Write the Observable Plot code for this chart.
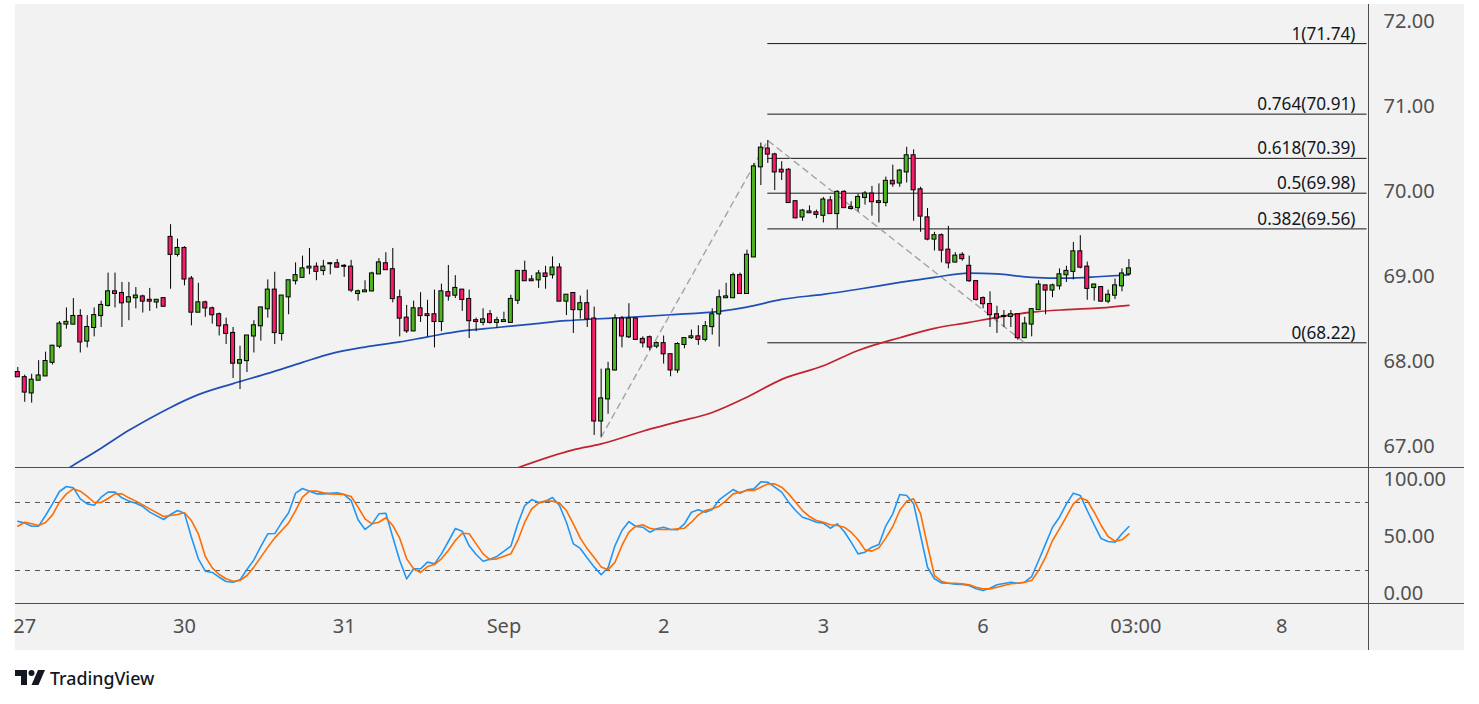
<!DOCTYPE html>
<html><head><meta charset="utf-8">
<script src="https://cdn.jsdelivr.net/npm/d3@7"></script>
<script src="https://cdn.jsdelivr.net/npm/@observablehq/plot@0.6"></script>
<style>
body{margin:0;background:#fff;font-family:"Noto Sans",sans-serif;}
#wrap{position:relative;width:1479px;height:704px;overflow:hidden;background:#fff;}
#panel{position:absolute;left:15px;top:4px;width:1449px;height:646px;background:#f2f2f2;}
.pane{position:absolute;left:15px;width:1449px;}
.sep{position:absolute;background:#4f4f4f;}
#logo{position:absolute;left:0;top:650px;}
</style></head><body>
<div id="wrap">
<div id="panel"></div>
<div id="main" class="pane" style="top:4px"></div>
<div id="stoch" class="pane" style="top:467px"></div>
<div id="time" class="pane" style="top:603px"></div>
<div class="sep" style="left:15px;top:467px;width:1449px;height:1px"></div>
<div class="sep" style="left:15px;top:603px;width:1449px;height:1px"></div>
<div class="sep" style="left:1368px;top:4px;width:1px;height:646px"></div>
<svg id="logo" width="200" height="54">
  <path d="M15 20H27V35H21V26H15Z" fill="#131722"/>
  <circle cx="31.5" cy="23" r="3" fill="#131722"/>
  <path d="M38 20H45L38.5 35H31.5Z" fill="#131722"/>
  <text x="50" y="35" font-family="Noto Sans" font-size="17.8" font-weight="500" fill="#131722">TradingView</text>
</svg>
</div>
<script>
// Hourly candles (index 0..160)
const open = [67.87,67.81,67.63,67.78,67.83,67.99,68.18,68.44,68.44,68.53,
68.24,68.40,68.54,68.66,68.82,68.80,68.70,68.75,68.76,68.72,
68.70,68.74,69.46,69.26,69.33,68.97,68.58,68.69,68.62,68.55,
68.42,68.33,67.98,68.01,68.30,68.42,68.62,68.84,68.33,68.76,
68.95,68.99,69.10,69.11,69.07,69.15,69.15,69.12,69.11,68.80,
68.82,68.83,69.03,69.15,69.08,68.75,68.51,68.36,68.62,68.55,
68.55,68.47,68.81,68.78,68.84,68.73,68.48,68.46,68.55,68.46,
68.47,68.46,68.72,69.06,68.96,68.96,69.03,69.02,69.10,68.71,
68.80,68.61,68.68,68.50,67.30,67.56,67.90,68.50,68.29,68.50,
68.26,68.28,68.18,68.21,68.08,67.90,68.20,68.28,68.29,68.26,
68.41,68.56,68.75,68.75,69.01,68.80,69.23,70.29,70.50,70.43,
70.25,70.25,69.88,69.70,69.75,69.75,69.72,69.89,69.74,69.99,
69.81,69.81,69.93,69.97,69.88,69.87,70.12,70.10,70.23,70.42,
70.02,69.69,69.44,69.48,69.31,69.17,69.25,69.12,68.94,68.74,
68.67,68.55,68.53,68.53,68.55,68.28,68.44,68.61,68.89,68.84,
68.89,69.02,69.06,69.29,69.11,68.87,68.87,68.71,68.78,68.89,
69.03];
const high = [67.93,67.84,67.85,68.01,68.11,68.19,68.47,68.63,68.74,68.61,
68.54,68.63,68.71,69.04,69.04,68.93,68.93,68.87,68.78,68.86,
68.73,68.74,69.61,69.44,69.35,69.00,68.92,68.71,68.64,68.57,
68.51,68.40,68.18,68.30,68.48,68.64,68.96,69.05,68.77,68.95,
69.16,69.24,69.33,69.16,69.19,69.16,69.20,69.14,69.19,68.84,
68.95,69.05,69.21,69.28,69.33,68.84,68.66,68.71,68.81,68.72,
68.84,68.91,69.13,69.01,68.84,68.84,68.51,68.62,68.60,68.52,
68.58,68.78,69.06,69.18,69.01,69.07,69.12,69.23,69.15,68.78,
68.80,68.77,68.84,68.64,67.91,67.99,68.55,68.53,68.68,68.51,
68.29,68.30,68.23,68.30,68.08,68.22,68.27,68.37,68.42,68.47,
68.62,68.84,68.92,69.04,69.04,69.31,70.33,70.57,70.60,70.45,
70.35,70.27,69.89,69.79,69.83,69.78,69.93,69.94,70.01,70.01,
69.88,69.97,70.00,70.06,70.09,70.17,70.31,70.26,70.52,70.49,
70.05,69.80,69.52,69.50,69.59,69.28,69.28,69.24,68.95,68.76,
68.82,68.65,68.60,68.60,68.56,68.52,68.62,68.95,68.89,68.91,
69.09,69.12,69.40,69.48,69.17,68.91,68.88,68.84,68.97,69.09,
69.20];
const low = [67.82,67.52,67.51,67.78,67.83,67.96,68.15,68.38,68.43,68.10,
68.16,68.29,68.40,68.64,68.63,68.40,68.48,68.62,68.57,68.59,
68.62,68.64,68.85,69.23,68.89,68.42,68.58,68.52,68.44,68.30,
68.20,67.80,67.67,67.87,68.10,68.24,68.51,68.20,68.24,68.55,
68.90,68.99,69.02,68.95,69.01,69.02,69.10,68.99,68.81,68.71,
68.82,68.82,69.03,69.08,68.69,68.29,68.33,68.35,68.46,68.29,
68.16,68.35,68.71,68.74,68.59,68.27,68.35,68.42,68.44,68.39,
68.46,68.46,68.67,68.95,68.95,68.86,68.85,68.97,68.71,68.54,
68.33,68.50,68.40,67.13,67.11,67.38,67.89,68.16,68.27,68.25,
68.16,68.13,68.15,67.97,67.82,67.86,68.15,68.26,68.19,68.23,
68.31,68.17,68.75,68.75,68.79,68.80,69.23,70.07,70.33,70.01,
70.13,69.86,69.68,69.65,69.74,69.68,69.63,69.73,69.56,69.80,
69.78,69.76,69.84,69.71,69.63,69.82,70.05,70.05,70.10,69.65,
69.52,69.42,69.30,69.16,69.09,69.16,69.18,68.93,68.71,68.62,
68.40,68.33,68.40,68.40,68.25,68.27,68.29,68.61,68.55,68.75,
68.84,68.93,68.96,69.09,68.72,68.71,68.70,68.68,68.73,68.82,
69.01];
const close = [67.82,67.64,67.78,67.83,68.00,68.18,68.44,68.46,68.53,68.23,
68.40,68.54,68.66,68.82,68.80,68.69,68.75,68.77,68.71,68.71,
68.72,68.65,69.26,69.33,68.97,68.58,68.69,68.63,68.55,68.42,
68.33,67.98,68.01,68.30,68.42,68.63,68.84,68.34,68.77,68.95,
69.01,69.09,69.11,69.06,69.11,69.15,69.11,69.12,68.84,68.82,
68.83,69.03,69.16,69.08,68.74,68.51,68.36,68.62,68.54,68.54,
68.47,68.82,68.77,68.86,68.73,68.48,68.47,68.49,68.46,68.48,
68.48,68.73,69.06,68.95,68.95,69.03,69.00,69.10,68.71,68.78,
68.61,68.68,68.50,67.30,67.56,67.90,68.50,68.30,68.50,68.26,
68.22,68.17,68.21,68.09,67.90,68.20,68.27,68.29,68.26,68.41,
68.55,68.75,68.76,69.01,68.80,69.25,70.29,70.51,70.44,70.23,
70.23,69.87,69.69,69.77,69.76,69.73,69.90,69.74,69.99,69.81,
69.80,69.93,69.97,69.88,69.87,70.12,70.09,70.24,70.42,70.02,
69.71,69.44,69.48,69.31,69.16,69.24,69.21,68.95,68.73,68.68,
68.55,68.51,68.53,68.55,68.28,68.44,68.61,68.90,68.84,68.89,
69.02,69.06,69.29,69.11,68.86,68.90,68.71,68.78,68.89,69.03,
69.09];

// Moving averages: [candle index, price]
const maBlue = [[6,66.68],[8,66.78],[12,66.98],[16,67.19],[19,67.33],[22,67.46],[26,67.61],[31,67.74],[36,67.86],[41,67.99],[45,68.09],[50,68.17],[55,68.23],[59,68.29],[64,68.36],[69,68.40],[74,68.44],[79,68.48],[83,68.50],[88,68.52],[94,68.55],[101,68.59],[105,68.64],[110,68.73],[116,68.79],[121,68.85],[127,68.93],[132,68.99],[137,69.04],[141,69.03],[146,68.99],[151,68.98],[156,69.00],[160,69.02]];
const maRed = [[71,66.72],[80,66.96],[84,67.03],[90,67.18],[95,67.29],[100,67.40],[105,67.58],[110,67.79],[116,67.95],[121,68.13],[127,68.28],[132,68.39],[137,68.46],[141,68.52],[146,68.58],[151,68.61],[156,68.63],[160,68.66]];

// Fibonacci retracement
const fibRatios = [1, 0.764, 0.618, 0.5, 0.382, 0];
const fibValues = [71.74, 70.91, 70.39, 69.98, 69.56, 68.22];
const fibStart = 108;
const zigIdx = [84, 108, 145];
const zigPrice = [67.11, 70.60, 68.22];

// Stochastic %K and %D: [candle index, value]
const stochK = [[0,63.5],[1,61.8],[2,59.1],[3,59.1],[4,68.5],[5,78.8],[6,89.7],[7,94.1],[8,92.9],[9,83.2],[10,78.8],[11,77.6],[12,84.7],[13,89.1],[14,89.1],[15,84.1],[16,81.2],[17,79.4],[18,76.4],[19,71.5],[21,65.0],[22,69.4],[23,72.9],[24,70.6],[25,49.4],[26,30.3],[27,19.4],[28,18.3],[29,14.1],[30,10.3],[31,9.7],[32,11.8],[33,20.9],[34,29.4],[35,41.2],[36,52.4],[37,52.6],[38,62.3],[39,70.9],[40,88.2],[41,92.3],[42,90.0],[43,87.6],[44,87.6],[46,88.5],[47,87.0],[48,81.7],[49,64.7],[50,56.2],[51,60.9],[52,70.0],[53,70.5],[54,49.4],[55,28.8],[56,12.6],[57,21.5],[58,21.5],[59,27.4],[60,25.9],[61,34.7],[62,45.6],[63,57.0],[64,54.7],[65,41.8],[66,34.1],[67,28.2],[68,30.0],[69,32.4],[71,41.5],[72,61.2],[73,77.3],[74,82.6],[75,80.0],[76,81.2],[77,84.4],[78,77.3],[79,62.6],[80,43.5],[81,39.5],[82,31.0],[83,23.2],[84,16.3],[85,22.4],[86,42.0],[87,55.3],[88,63.2],[89,58.8],[90,58.2],[91,53.8],[92,56.8],[93,58.2],[94,56.2],[95,55.9],[96,61.2],[97,71.4],[98,73.5],[99,71.4],[100,73.8],[101,82.3],[102,87.0],[103,91.4],[104,88.2],[105,91.1],[106,92.0],[107,98.2],[108,97.9],[109,93.5],[110,89.1],[111,80.3],[112,72.9],[113,67.0],[114,65.0],[115,62.6],[116,61.8],[117,57.3],[118,61.2],[119,54.4],[120,45.0],[121,34.7],[122,36.2],[123,40.6],[124,42.9],[125,59.4],[126,70.0],[127,87.0],[128,86.2],[129,78.8],[130,50.9],[131,22.9],[132,12.7],[133,9.1],[134,8.8],[135,7.9],[136,7.7],[137,6.8],[138,3.9],[139,2.4],[140,4.4],[141,7.4],[143,9.7],[144,8.8],[145,9.7],[146,14.7],[147,28.8],[148,43.5],[149,58.2],[150,67.0],[151,78.8],[152,88.2],[153,86.2],[154,72.9],[155,60.3],[156,48.2],[157,45.6],[158,45.0],[159,52.4],[160,58.8]];
const stochD = [[0,59.1],[1,62.6],[2,61.2],[3,59.7],[4,62.3],[5,69.1],[6,80.3],[7,87.6],[8,92.0],[9,90.0],[10,85.3],[11,80.0],[12,80.0],[13,83.5],[14,87.6],[15,87.6],[16,84.1],[17,81.2],[18,77.9],[19,74.4],[21,67.6],[23,69.4],[24,70.9],[25,64.1],[26,52.4],[27,32.4],[28,22.4],[29,16.5],[30,12.7],[31,10.6],[32,11.2],[33,15.6],[34,23.0],[35,31.8],[36,40.6],[37,48.8],[38,55.3],[39,62.0],[40,72.9],[41,84.7],[42,90.0],[43,90.0],[44,88.5],[45,87.6],[47,87.0],[48,85.3],[49,75.9],[50,65.6],[51,61.2],[52,62.6],[53,66.5],[54,59.7],[55,48.5],[56,30.3],[57,21.5],[58,18.3],[59,23.5],[60,25.3],[61,30.3],[62,37.6],[63,46.5],[64,52.9],[65,52.4],[66,43.5],[67,34.7],[68,29.7],[69,30.3],[71,34.7],[72,46.5],[73,62.6],[74,74.4],[75,79.4],[76,81.2],[77,81.2],[78,79.4],[79,72.9],[80,61.2],[81,48.6],[82,39.1],[83,31.5],[84,23.2],[85,20.6],[86,27.4],[87,42.1],[88,53.8],[89,59.1],[90,60.3],[91,57.3],[92,56.2],[93,56.2],[94,56.2],[95,56.8],[96,57.3],[97,62.6],[98,69.1],[99,72.9],[100,74.4],[101,76.7],[102,81.7],[103,87.6],[104,89.1],[105,90.6],[106,90.6],[107,93.5],[108,96.4],[109,96.4],[110,93.5],[111,87.6],[112,80.3],[113,72.9],[114,67.6],[115,64.1],[116,62.6],[117,60.3],[118,59.7],[119,58.2],[120,53.8],[121,47.1],[122,38.2],[123,37.1],[124,40.0],[125,48.8],[126,58.8],[127,72.9],[128,81.2],[129,83.2],[130,70.0],[131,42.1],[132,15.6],[133,10.6],[134,8.8],[135,8.8],[136,8.3],[137,7.4],[138,5.3],[139,3.8],[140,3.8],[141,5.3],[143,8.3],[144,8.8],[145,9.7],[146,11.2],[147,20.0],[148,31.8],[149,46.5],[150,56.8],[151,67.6],[152,78.8],[153,84.1],[154,81.7],[155,71.4],[156,59.7],[157,50.0],[158,45.9],[159,47.1],[160,52.4]];
const stochBands = [80, 20];

// Axes
const priceTicks = [67, 68, 69, 70, 71, 72];
const stochTicks = [0, 50, 100];
const timeTickIdx = [1, 24, 47, 70, 93, 116, 139, 161, 182];
const timeTickLabels = ["27", "30", "31", "Sep", "2", "3", "6", "03:00", "8"];

const GREEN = "#4db51f", RED = "#f81d6b", AXIS = "#505050", FONT = "Noto Sans";
const XD = [-0.33, 194.5];
const W = 1449, MR = 96;

const candles = open.map((o, i) => ({i, o, h: high[i], l: low[i], c: close[i]}));
const fib = fibRatios.map((r, k) => ({r, v: fibValues[k]}));
const zig = zigIdx.map((i, k) => ({i, p: zigPrice[k]}));
const baseStyle = {background: "transparent", overflow: "visible", fontFamily: FONT};

const main = Plot.plot({
  width: W, height: 463, marginLeft: 0, marginRight: MR, marginTop: 0, marginBottom: 0,
  style: baseStyle,
  x: {domain: XD, axis: null},
  y: {domain: [66.7529, 72.2], axis: null},
  marks: [
    Plot.ruleY(fib, {y: "v", x1: fibStart, x2: XD[1] - 0.2, stroke: "#161616", strokeWidth: 1}),
    Plot.text(fib, {x: XD[1], y: "v", text: d => `${d.r}(${d.v.toFixed(2)})`, textAnchor: "end", lineAnchor: "bottom", dx: -13, dy: -4, fontSize: 17.2, fill: "#131722"}),
    Plot.line(zig, {x: "i", y: "p", stroke: "#a3a3a3", strokeWidth: 1.4, strokeDasharray: "6,5"}),
    Plot.line(maBlue, {x: d => d[0], y: d => d[1], stroke: "#1f4fb4", strokeWidth: 1.7, curve: "monotone-x", clip: true}),
    Plot.line(maRed, {x: d => d[0], y: d => d[1], stroke: "#c1242e", strokeWidth: 1.7, curve: "monotone-x", clip: true}),
    Plot.ruleX(candles, {x: "i", y1: "l", y2: "h", stroke: "#000", strokeWidth: 1}),
    Plot.rect(candles, {x1: d => d.i - 0.29, x2: d => d.i + 0.29, y1: "o", y2: "c", insetTop: -0.5, insetBottom: -0.5,
      fill: d => d.c >= d.o ? GREEN : RED, stroke: "#000", strokeWidth: 1}),
    Plot.axisY({anchor: "right", ticks: priceTicks, tickFormat: d => d.toFixed(2), tickSize: 0, tickPadding: 15, fontSize: 20, color: AXIS, label: null})
  ]
});
document.getElementById("main").append(main);

const stoch = Plot.plot({
  width: W, height: 136, marginLeft: 0, marginRight: MR, marginTop: 0, marginBottom: 0,
  style: baseStyle,
  x: {domain: XD, axis: null},
  y: {domain: [-9.08, 110.85], axis: null},
  marks: [
    Plot.ruleY(stochBands, {stroke: "#555", strokeWidth: 1, strokeDasharray: "5,5"}),
    Plot.line(stochK, {x: d => d[0], y: d => d[1], stroke: "#2196f3", strokeWidth: 1.6}),
    Plot.line(stochD, {x: d => d[0], y: d => d[1], stroke: "#ff6d00", strokeWidth: 1.6}),
    Plot.axisY({anchor: "right", ticks: stochTicks, tickFormat: d => d.toFixed(2), tickSize: 0, tickPadding: 15, fontSize: 20, color: AXIS, label: null})
  ]
});
document.getElementById("stoch").append(stoch);

const timeTicks = timeTickIdx.map((i, k) => ({i, label: timeTickLabels[k]}));
const time = Plot.plot({
  width: W, height: 47, marginLeft: 0, marginRight: MR, marginTop: 0, marginBottom: 0,
  style: baseStyle,
  x: {domain: XD, axis: null},
  marks: [
    Plot.text(timeTicks, {x: "i", text: "label", frameAnchor: "middle", fontSize: 20, fill: AXIS})
  ]
});
document.getElementById("time").append(time);
</script>
</body></html>
